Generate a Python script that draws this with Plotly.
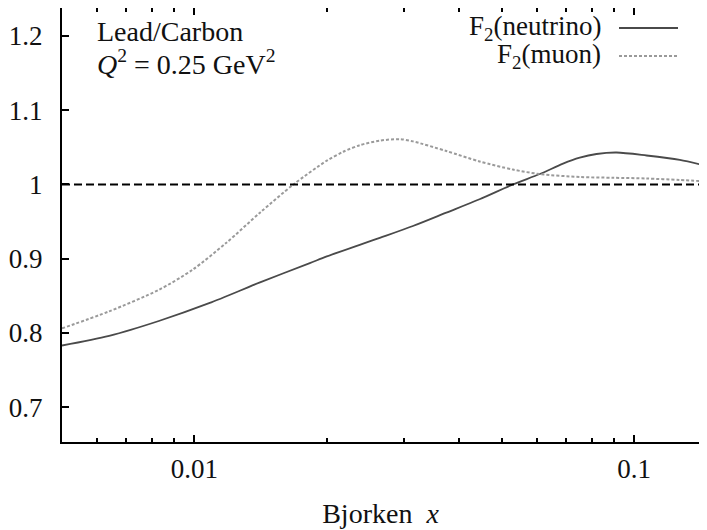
import math
import plotly.graph_objects as go

# ---- data ----
muon_x = [0.0050, 0.0064, 0.0083, 0.0099, 0.0118, 0.0141, 0.0168, 0.0200, 0.0218,
          0.0238, 0.0264, 0.0293, 0.0314, 0.0374, 0.0445, 0.0530, 0.0610, 0.0752,
          0.0896, 0.1067, 0.1270, 0.1460]
muon_y = [0.806, 0.829, 0.858, 0.885, 0.921, 0.962, 1.000, 1.032, 1.044,
          1.053, 1.059, 1.061, 1.058, 1.045, 1.031, 1.020, 1.014, 1.010,
          1.009, 1.008, 1.006, 1.004]

neutrino_x = [0.0050, 0.0064, 0.0083, 0.0108, 0.0141, 0.0183, 0.0200, 0.0264,
              0.0314, 0.0374, 0.0445, 0.0530, 0.0610, 0.0689, 0.0752, 0.0821,
              0.0912, 0.1067, 0.1270, 0.1460]
neutrino_y = [0.783, 0.796, 0.816, 0.840, 0.868, 0.894, 0.903, 0.928,
              0.944, 0.962, 0.980, 1.000, 1.014, 1.028, 1.036, 1.041,
              1.043, 1.039, 1.033, 1.025]

series_names = ["F<sub>2</sub>(neutrino)", "F<sub>2</sub>(muon)"]
ref_line = 1.0
y_ticks = [0.7, 0.8, 0.9, 1.0, 1.1, 1.2]
x_ticks = [0.01, 0.1]
x_minor = [0.006, 0.007, 0.008, 0.009, 0.02, 0.03, 0.04, 0.05, 0.06, 0.07, 0.08, 0.09]
x_range = [0.005, 0.1404]
y_range = [0.653, 1.2377]

FONT = "Liberation Serif, Times New Roman, serif"
FS = 27
FS_NOTE = 28
OFF = 8                      # page body margin
W, H = 707 - 2 * OFF, 530 - OFF
L, R, T, B = 62 - OFF, 0, 0, 88
pw, ph = W - L - R, H - T - B

def px(x_abs):
    return (x_abs - OFF - L) / pw

def py(y_abs):
    return (H - B - (y_abs - OFF)) / ph

fig = go.Figure()
fig.add_trace(go.Scatter(x=neutrino_x, y=neutrino_y, mode="lines",
                         line=dict(color="#4a4a4a", width=1.8, shape="spline", smoothing=0.8),
                         name="neutrino", showlegend=False))
fig.add_trace(go.Scatter(x=muon_x, y=muon_y, mode="lines",
                         line=dict(color="#9a9a9a", width=2, dash="3px,2px", shape="spline",
                                   smoothing=0.8),
                         name="muon", showlegend=False))

# reference line at 1
fig.add_shape(type="line", xref="paper", x0=0, x1=1, yref="y", y0=ref_line, y1=ref_line,
              line=dict(color="black", width=2, dash="8px,4px"))

# annotations (top-left)
fig.add_annotation(text="Lead/Carbon", xref="paper", yref="paper", x=px(95), y=py(32),
                   xanchor="left", yanchor="middle", showarrow=False,
                   font=dict(family=FONT, size=FS_NOTE, color="#111"))
fig.add_annotation(text="<i>Q</i><sup>2</sup> = 0.25 GeV<sup>2</sup>", xref="paper", yref="paper",
                   x=px(95), y=py(62), xanchor="left", yanchor="middle", showarrow=False,
                   font=dict(family=FONT, size=FS_NOTE, color="#111"))

# gnuplot style key (text left, sample right)
for i, (name, col, dash, w) in enumerate([(series_names[0], "#4a4a4a", "solid", 1.8),
                                           (series_names[1], "#9a9a9a", "3px,2px", 2)]):
    yc = [28, 56][i]
    fig.add_annotation(text=name, xref="paper", yref="paper", x=px(603), y=py(yc),
                       xanchor="right", yanchor="middle", showarrow=False,
                       font=dict(family=FONT, size=FS, color="#111"))
    fig.add_shape(type="line", xref="paper", yref="paper", x0=px(619), x1=px(678),
                  y0=py(yc), y1=py(yc), line=dict(color=col, width=w, dash=dash))

fig.update_xaxes(type="log", range=[math.log10(v) for v in x_range],
                 tickvals=x_ticks, ticktext=["0.01", "0.1"],
                 ticks="inside", ticklen=7, tickwidth=2, tickcolor="black",
                 minor=dict(tickmode="array", tickvals=x_minor, ticks="inside", ticklen=4,
                            tickwidth=2, tickcolor="black", showgrid=False),
                 showline=True, linecolor="black", linewidth=2, mirror="allticks",
                 showgrid=False, zeroline=False,
                 tickfont=dict(family=FONT, size=FS, color="#111"),
                 ticklabelstandoff=2,
                 title=dict(text="Bjorken  <i>x</i>", font=dict(family=FONT, size=FS + 1, color="#111"),
                            standoff=20))
fig.update_yaxes(range=y_range, tickvals=y_ticks,
                 ticks="inside", ticklen=7, tickwidth=2, tickcolor="black",
                 showline=True, linecolor="black", linewidth=2, mirror=False,
                 showgrid=False, zeroline=False,
                 tickfont=dict(family=FONT, size=FS, color="#111"),
                 ticklabelstandoff=12)

fig.update_layout(width=W, height=H,
                  margin=dict(l=L, r=R, t=T, b=B, autoexpand=False),
                  paper_bgcolor="white", plot_bgcolor="white", showlegend=False)

fig.write_html("out.html")
